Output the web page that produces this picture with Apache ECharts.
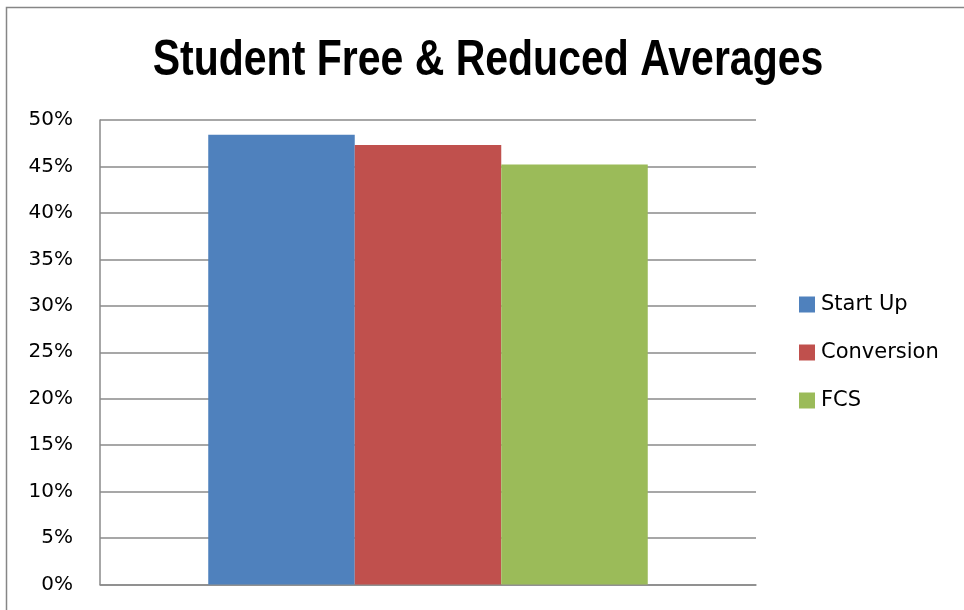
<!DOCTYPE html>
<html>
<head>
<meta charset="utf-8">
<script src="https://cdn.jsdelivr.net/npm/echarts@6/dist/echarts.min.js"></script>
<style>
  html, body { margin: 0; padding: 0; background: #fff; }
  #chart { width: 964px; height: 610px; }
</style>
</head>
<body>
<div id="chart"></div>
<script>
// Share of students on free & reduced lunch, by school type
const chartTitle = 'Student Free & Reduced Averages';
const seriesNames = ['Start Up', 'Conversion', 'FCS'];
const seriesValues = [0.484, 0.473, 0.452];
const seriesColors = ['#4f81bd', '#c0504d', '#9bbb59'];
const yTicks = { min: 0, max: 0.5, interval: 0.05 };

const chart = echarts.init(document.getElementById('chart'), null, { renderer: 'canvas' });

const series = seriesNames.map((name, i) => ({
  name: name,
  type: 'bar',
  data: [seriesValues[i]],
  barGap: '0%',
  barCategoryGap: '33%',
  itemStyle: { color: seriesColors[i] }
}));

chart.setOption({
  animation: false,
  textStyle: { fontFamily: 'DejaVu Sans' },
  graphic: [
    {
      // chart frame
      type: 'rect',
      shape: { x: 6.5, y: 7.5, width: 1000, height: 1000 },
      style: { fill: 'none', stroke: '#868686', lineWidth: 1.5 },
      silent: true
    },
    {
      // condensed bold heading
      type: 'text',
      x: 488,
      y: 61.5,
      scaleX: 0.82,
      style: {
        text: chartTitle,
        align: 'center',
        verticalAlign: 'middle',
        fontFamily: 'Liberation Sans',
        fontWeight: 'bold',
        fontSize: 50,
        fill: '#000'
      },
      silent: true
    }
  ],
  legend: {
    orient: 'vertical',
    left: 799,
    top: 294,
    padding: 0,
    itemWidth: 16,
    itemHeight: 16,
    itemGap: 27,
    icon: 'rect',
    textStyle: { fontFamily: 'DejaVu Sans', fontSize: 21, color: '#000', padding: [0, 0, 0, 1] },
    data: seriesNames
  },
  grid: { left: 100, right: 208, top: 120, bottom: 25.5, containLabel: false },
  xAxis: {
    type: 'category',
    data: [''],
    axisLine: { lineStyle: { color: '#8a8a8a', width: 1.5 } },
    axisTick: { show: false },
    axisLabel: { show: false }
  },
  yAxis: {
    type: 'value',
    min: yTicks.min,
    max: yTicks.max,
    interval: yTicks.interval,
    axisLine: { show: true, lineStyle: { color: '#8a8a8a', width: 1.5 } },
    axisTick: { show: false },
    splitLine: { lineStyle: { color: '#8a8a8a', width: 1.5 } },
    axisLabel: {
      fontFamily: 'DejaVu Sans',
      fontSize: 20,
      color: '#000',
      margin: 27,
      formatter: v => Math.round(v * 100) + '%'
    }
  },
  series: series
});
</script>
</body>
</html>
